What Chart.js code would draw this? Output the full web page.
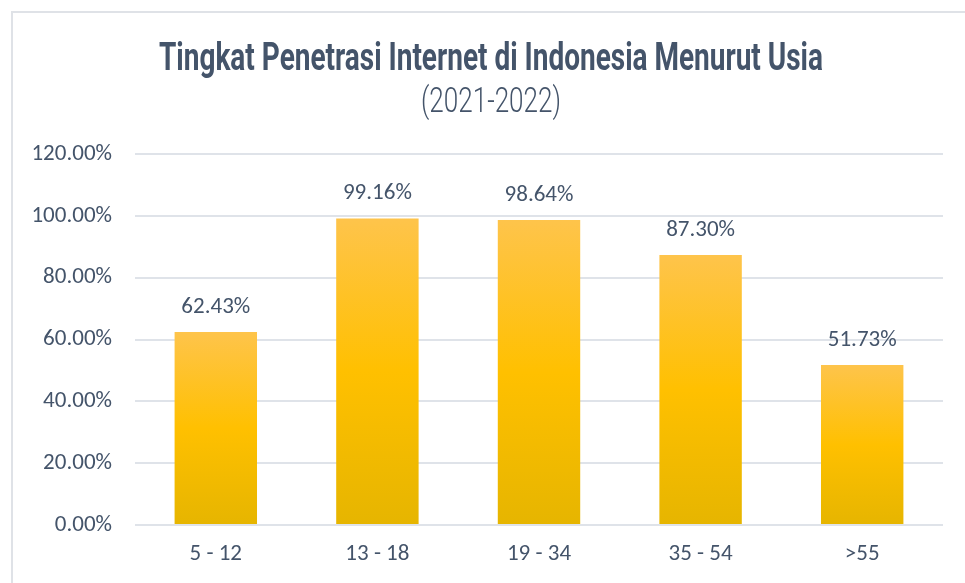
<!DOCTYPE html>
<html>
<head>
<meta charset="utf-8">
<script src="https://cdn.jsdelivr.net/npm/chart.js@4"></script>
<style>
  html, body { margin: 0; padding: 0; background: #fff; }
  #wrap { position: relative; width: 965px; height: 583px; }
  #frame { position: absolute; left: 11px; top: 11px; width: 1000px; height: 600px;
           border-left: 2px solid #dfe2e7; border-top: 2px solid #dfe2e7; pointer-events: none; }
</style>
</head>
<body>
<div id="wrap">
  <canvas id="chart" width="965" height="583"></canvas>
  <div id="frame"></div>
</div>
<script>
const ageGroups = ['5 - 12', '13 - 18', '19 - 34', '35 - 54', '>55'];
const penetration = [62.43, 99.16, 98.64, 87.30, 51.73];
const titleText = 'Tingkat Penetrasi Internet di Indonesia Menurut Usia';
const subtitleText = '(2021-2022)';

const TEXT = '#44546A';
const GRID = '#dfe3e9';
const LABEL_FONT = 'Carlito, Calibri, Lato, sans-serif';
const TITLE_FONT = 'Roboto, "DejaVu Sans", sans-serif';

const barGradient = (context) => {
    const chart = context.chart;
    if (!chart.chartArea || context.dataIndex === undefined) return '#FFC000';
    const y = chart.scales.y;
    const top = y.getPixelForValue(context.raw);
    const bottom = y.getPixelForValue(0);
    const g = chart.ctx.createLinearGradient(0, top, 0, bottom);
    g.addColorStop(0, '#FEC44B');
    g.addColorStop(0.5, '#FFC000');
    g.addColorStop(1, '#E6B500');
    return g;
};

// condensed title, the original uses a narrow display face
const drawCondensed = (ctx, text, font, cx, cy, width) => {
    ctx.save();
    ctx.font = font;
    const sx = width / ctx.measureText(text).width;
    ctx.translate(cx, cy);
    ctx.scale(sx, 1);
    ctx.fillText(text, 0, 0);
    ctx.restore();
};

const chartTitle = {
    id: 'chartTitle',
    afterDraw(chart) {
        const ctx = chart.ctx;
        const cx = (chart.chartArea.left + chart.chartArea.right) / 2 - 48;
        ctx.save();
        ctx.fillStyle = TEXT;
        ctx.textAlign = 'center';
        ctx.textBaseline = 'alphabetic';
        drawCondensed(ctx, titleText, 'bold 39px ' + TITLE_FONT, cx, 70, 664);
        drawCondensed(ctx, subtitleText, '300 35px ' + TITLE_FONT, cx, 112, 140);
        ctx.restore();
    }
};

const valueLabels = {
    id: 'valueLabels',
    afterDatasetsDraw(chart) {
        const ctx = chart.ctx;
        const meta = chart.getDatasetMeta(0);
        ctx.save();
        ctx.font = '23px ' + LABEL_FONT;
        ctx.fillStyle = TEXT;
        ctx.textAlign = 'center';
        ctx.textBaseline = 'middle';
        meta.data.forEach((bar, i) => {
            ctx.fillText(penetration[i].toFixed(2) + '%', bar.x, bar.y - 25);
        });
        ctx.restore();
    }
};

new Chart(document.getElementById('chart'), {
    type: 'bar',
    data: {
        labels: ageGroups,
        datasets: [{
            data: penetration,
            backgroundColor: barGradient,
            borderWidth: 0,
            barPercentage: 0.51,
            categoryPercentage: 1
        }]
    },
    options: {
        responsive: false,
        animation: false,
        layout: { padding: { left: 0, right: 22, top: 154, bottom: 0 } },
        plugins: {
            legend: { display: false },
            tooltip: { enabled: false },
            title: { display: false },
            subtitle: { display: false }
        },
        scales: {
            x: {
                grid: { display: false, drawTicks: false },
                border: { display: false },
                ticks: { color: TEXT, font: { family: LABEL_FONT, size: 23 }, padding: 15 },
                afterFit: (scale) => { scale.height = 58; }
            },
            y: {
                min: 0,
                max: 120,
                grid: { color: GRID, lineWidth: 2, drawTicks: false },
                border: { display: false },
                ticks: {
                    stepSize: 20,
                    color: TEXT,
                    font: { family: LABEL_FONT, size: 23 },
                    padding: 23,
                    callback: (v) => v.toFixed(2) + '%'
                },
                afterFit: (scale) => { scale.width = 135; }
            }
        }
    },
    plugins: [valueLabels, chartTitle]
});
</script>
</body>
</html>
